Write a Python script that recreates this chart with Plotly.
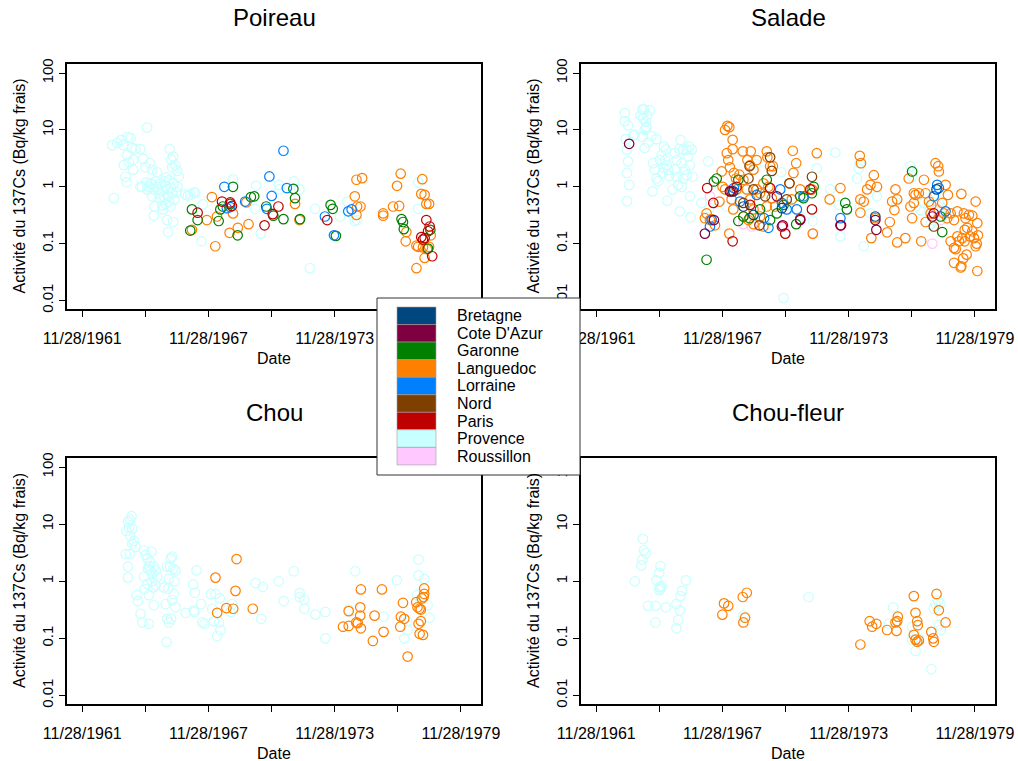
import plotly.graph_objects as go
from datetime import datetime, timedelta

W, H = 1018, 761

regions = ["Bretagne", "Cote D'Azur", "Garonne", "Languedoc", "Lorraine",
           "Nord", "Paris", "Provence", "Roussillon"]
region_colors = ["#00467F", "#7F0040", "#007F00", "#FF7F00", "#007FFF",
                 "#7F3F00", "#BF0000", "#C8FFFF", "#FFC8FF"]
draw_order = ["Provence", "Roussillon", "Languedoc", "Garonne", "Lorraine",
              "Paris", "Nord", "Bretagne", "Cote D'Azur"]

tick_years = [1961, 1964, 1967, 1970, 1973, 1976, 1979]
tick_labels = ["11/28/1961", "", "11/28/1967", "", "11/28/1973", "", "11/28/1979"]
y_tickvals = [0.01, 0.1, 1, 10, 100]
y_ticklabels = ["0.01", "0.1", "1", "10", "100"]

# ---------------- Poireau ----------------
poireau_provence_t = [1963.33, 1963.57, 1963.76, 1963.85, 1964.07, 1964.20, 1964.28, 1964.44, 1964.67, 1964.04,
                      1963.88, 1964.12, 1963.96, 1964.01, 1964.33, 1964.33, 1964.67, 1964.80, 1964.91, 1964.99,
                      1964.96, 1965.07, 1965.12, 1965.23, 1965.31, 1965.23, 1965.34, 1965.31, 1965.46, 1965.54,
                      1965.62, 1965.70, 1965.75, 1965.81, 1965.89, 1965.94, 1965.99, 1966.03, 1966.06, 1966.13,
                      1966.18, 1966.22, 1966.25, 1966.29, 1966.33, 1966.41, 1966.44, 1966.49, 1965.94, 1965.99,
                      1966.22, 1963.41, 1966.81, 1966.93, 1967.20, 1967.64, 1967.57, 1969.07, 1970.17, 1970.12,
                      1970.39, 1971.25, 1971.28, 1971.97, 1972.23, 1972.97, 1972.73, 1974.15, 1974.50, 1974.86,
                      1974.97, 1977.87, 1977.87, 1965.46, 1965.59, 1965.78, 1965.86, 1966.10, 1966.18, 1966.38,
                      1965.39, 1965.15, 1964.99, 1964.75, 1965.23, 1965.70, 1965.86, 1966.02, 1966.13, 1967.04,
                      1967.28]
poireau_provence_v = [5.4, 5.9, 6.7, 5.4, 7.5, 7.2, 4.8, 4.6, 4.6, 3.6,
                      2.4, 2.7, 1.5, 1.2, 3.0, 2.0, 1.0, 3.1, 2.2, 11,
                      1.2, 1.0, 2.6, 2.0, 0.9, 0.68, 0.45, 0.31, 1.8, 0.77,
                      1.15, 0.47, 0.4, 1.25, 1.45, 0.9, 0.68, 0.55, 4.6, 3.0,
                      2.2, 3.4, 1.15, 0.6, 2.4, 1.9, 1.0, 1.5, 0.26, 0.16,
                      0.24, 0.63, 0.73, 0.70, 0.8, 0.49, 0.11, 1.35, 1.05, 0.41,
                      0.15, 1.08, 0.9, 1.25, 0.9, 0.41, 0.037, 0.3, 0.55, 0.25,
                      0.26, 1.2, 0.41, 1.0, 0.63, 0.68, 0.5, 0.45, 0.77, 0.8,
                      1.25, 1.15, 0.9, 1.0, 1.1, 0.85, 1.05, 1.3, 0.95, 0.73,
                      0.78]
poireau_languedoc_t = [1967.12, 1967.83, 1968.07, 1968.23, 1968.31, 1968.91, 1969.07, 1969.30, 1969.70, 1969.81,
                       1972.02, 1972.23, 1974.86, 1974.94, 1975.21, 1974.97, 1975.13, 1974.94, 1976.21, 1976.21,
                       1976.68, 1976.97, 1976.87, 1977.04, 1977.28, 1977.31, 1977.79, 1977.87, 1977.79, 1978.07,
                       1978.02, 1978.18, 1978.26, 1978.39, 1978.10, 1978.29, 1978.18, 1978.47, 1978.39]
poireau_languedoc_v = [0.175, 0.26, 0.66, 0.09, 0.30, 0.155, 0.34, 0.19, 0.53, 0.22,
                       0.50, 0.26, 0.68, 1.33, 1.42, 0.45, 0.45, 0.32, 0.34, 0.31,
                       0.45, 0.46, 1.04, 1.7, 0.11, 0.16, 0.092, 0.088, 0.037, 1.36,
                       0.75, 0.72, 0.50, 0.50, 0.086, 0.080, 0.056, 0.14, 0.088]
poireau_garonne_t = [1967.12, 1967.04, 1967.39, 1968.39, 1968.47, 1968.59, 1968.94, 1969.07, 1969.29, 1969.92,
                     1970.08, 1970.65, 1970.99, 1971.47, 1971.94, 1972.02, 1972.26, 1973.71, 1973.81, 1973.96,
                     1977.08, 1977.15, 1977.19, 1978.34, 1978.45]
poireau_garonne_v = [0.40, 0.17, 0.26, 0.25, 0.40, 0.45, 0.50, 1.0, 0.14, 0.66,
                     0.68, 0.45, 0.31, 0.27, 0.92, 0.63, 0.27, 0.48, 0.41, 0.137,
                     0.27, 0.24, 0.18, 0.082, 0.175]
poireau_lorraine_t = [1968.66, 1968.78, 1968.94, 1969.65, 1970.80, 1970.91, 1971.47, 1971.63, 1970.68, 1973.44,
                      1973.87, 1974.55, 1974.71]
poireau_lorraine_v = [1.0, 0.42, 0.44, 0.55, 1.52, 0.69, 4.3, 0.95, 0.41, 0.30,
                      0.14, 0.37, 0.40]
poireau_paris_t = [1967.39, 1968.55, 1969.02, 1968.94, 1970.57, 1971.23, 1970.96, 1973.55, 1978.26, 1978.42,
                   1978.02, 1978.10, 1978.18, 1978.54, 1978.34]
poireau_paris_v = [0.35, 0.55, 0.46, 0.53, 0.21, 0.45, 0.33, 0.26, 0.26, 0.20,
                   0.13, 0.118, 0.125, 0.06, 0.165]

# ---------------- Salade ----------------
salade_provence_t = [1963.26, 1963.26, 1963.42, 1963.31, 1963.37, 1963.42, 1963.37, 1963.47, 1963.37, 1963.66,
                     1963.74, 1964.10, 1964.17, 1964.01, 1964.13, 1964.26, 1964.29, 1964.21, 1964.10, 1964.21,
                     1964.32, 1964.45, 1964.37, 1964.29, 1964.53, 1964.77, 1964.61, 1964.69, 1964.77, 1964.58,
                     1964.85, 1964.93, 1965.01, 1965.12, 1965.21, 1965.25, 1965.33, 1965.37, 1965.28, 1965.53,
                     1965.09, 1965.17, 1965.06, 1965.64, 1965.72, 1965.85, 1965.91, 1966.04, 1965.96, 1966.12,
                     1966.20, 1966.28, 1966.36, 1966.44, 1966.33, 1966.49, 1965.88, 1965.80, 1966.04, 1966.36,
                     1966.39, 1965.72, 1965.64, 1966.20, 1965.96, 1967.23, 1966.91, 1967.28, 1968.10, 1968.70,
                     1969.20, 1969.90, 1970.70, 1970.81, 1971.00, 1971.60, 1972.20, 1969.50, 1972.39, 1973.27,
                     1973.51, 1973.43, 1973.03, 1974.38, 1974.43, 1974.30, 1974.62, 1974.43, 1974.94, 1975.25,
                     1976.13, 1976.84, 1976.92, 1977.08, 1977.32, 1977.80, 1978.03, 1978.19, 1978.35, 1978.40,
                     1977.72, 1977.48, 1977.95]
salade_provence_v = [19.8, 14.3, 12, 6.9, 4.5, 2.8, 1.75, 1.08, 0.56, 8.0,
                     8.3, 23, 23, 18, 16, 14, 11.4, 10, 7.5, 4.8,
                     18, 22, 6.0, 11, 7.8, 6.9, 2.6, 2.0, 1.4, 0.83,
                     1.25, 2.95, 3.6, 5.1, 4.5, 2.4, 2.0, 1.55, 0.57, 0.89,
                     2.2, 2.95, 1.75, 3.9, 2.95, 4.6, 6.7, 4.5, 2.6, 2.0,
                     4.5, 3.4, 2.4, 4.5, 5.1, 1.5, 0.37, 1.08, 1.4, 0.68,
                     0.29, 1.5, 2.0, 1.6, 1.0, 2.8, 0.52, 0.42, 0.45, 0.9,
                     0.68, 0.77, 1.8, 0.011, 0.5, 0.3, 0.25, 2.5, 2.1, 4.0,
                     0.134, 0.48, 0.91, 2.1, 2.6, 1.4, 0.09, 0.45, 0.34, 0.68,
                     0.55, 2.3, 1.5, 0.45, 0.39, 0.22, 0.77, 0.52, 0.42, 0.31,
                     0.45, 0.52, 0.26]
salade_languedoc_t = [1967.07, 1967.15, 1967.31, 1967.39, 1967.55, 1967.76, 1967.87, 1967.91, 1968.03, 1968.03,
                      1968.14, 1968.23, 1968.11, 1968.18, 1968.26, 1968.39, 1968.39, 1968.45, 1968.55, 1968.34,
                      1968.42, 1968.58, 1968.71, 1968.87, 1969.25, 1969.09, 1969.22, 1969.38, 1969.53, 1970.01,
                      1970.04, 1970.17, 1970.30, 1968.90, 1969.06, 1969.22, 1969.38, 1969.53, 1969.69, 1969.85,
                      1970.09, 1970.25, 1970.41, 1968.90, 1969.14, 1969.38, 1969.69, 1969.85, 1970.01, 1968.23,
                      1971.25, 1971.41, 1971.28, 1971.09, 1971.20, 1971.60, 1972.39, 1972.20, 1972.16, 1973.00,
                      1973.51, 1974.43, 1974.49, 1974.46, 1974.46, 1974.62, 1974.78, 1974.94, 1975.10, 1975.25,
                      1974.98, 1975.17, 1975.73, 1975.86, 1975.97, 1976.13, 1976.21, 1976.21, 1976.60, 1976.08,
                      1976.76, 1976.84, 1976.92, 1977.00, 1977.08, 1977.24, 1977.00, 1977.48, 1977.56, 1977.72,
                      1977.35, 1977.80, 1977.56, 1977.83, 1978.03, 1978.16, 1978.19, 1978.51, 1978.62, 1978.35,
                      1978.43, 1978.59, 1978.75, 1978.91, 1979.07, 1979.26, 1979.38, 1979.46, 1979.62, 1979.78,
                      1979.94, 1980.02, 1978.75, 1978.91, 1979.07, 1978.99, 1979.15, 1979.30, 1979.42, 1979.54,
                      1979.67, 1979.78, 1979.86, 1979.99, 1980.05, 1979.94, 1978.91, 1979.23, 1979.35, 1979.51,
                      1980.02, 1979.26, 1979.42]
salade_languedoc_v = [0.28, 0.34, 0.26, 0.27, 0.21, 0.55, 1.86, 1.0, 0.9, 10,
                      11.8, 11.2, 3.9, 2.95, 2.2, 6.7, 4.6, 1.75, 1.4, 0.6,
                      0.4, 0.9, 1.63, 4.2, 4.2, 2.95, 2.4, 2.0, 2.95, 4.2,
                      3.3, 2.3, 2.3, 1.33, 0.9, 0.6, 0.4, 0.9, 0.77, 1.15,
                      1.0, 0.63, 0.45, 0.30, 0.26, 0.22, 0.30, 0.20, 0.45, 0.15,
                      4.3, 2.6, 1.75, 1.15, 0.6, 0.9, 3.9, 0.15, 0.9, 0.6,
                      0.95, 3.5, 2.6, 0.6, 0.35, 0.55, 0.9, 1.08, 1.6, 1.0,
                      0.125, 0.28, 0.158, 0.24, 0.55, 0.9, 0.6, 0.105, 0.125, 0.39,
                      1.4, 0.45, 0.28, 0.77, 0.72, 0.77, 0.52, 1.33, 0.77, 0.55,
                      0.11, 0.34, 0.24, 0.48, 2.6, 2.3, 1.86, 1.08, 0.72, 0.52,
                      0.34, 0.28, 0.34, 0.26, 0.37, 0.75, 0.34, 0.28, 0.32, 0.31,
                      0.55, 0.23, 0.11, 0.084, 0.134, 0.08, 0.11, 0.125, 0.175, 0.19,
                      0.134, 0.165, 0.125, 0.1, 0.14, 0.09, 0.046, 0.038, 0.055, 0.064,
                      0.033, 0.04, 0.11]
salade_garonne_t = [1967.15, 1967.50, 1967.63, 1968.66, 1968.66, 1968.90, 1969.19, 1970.01, 1970.17, 1970.49,
                    1970.81, 1971.41, 1971.60, 1971.76, 1972.16, 1972.24, 1973.74, 1973.82, 1976.92, 1978.35,
                    1978.27, 1969.69]
salade_garonne_v = [0.052, 1.24, 1.4, 1.33, 0.25, 0.30, 0.28, 1.33, 0.26, 0.34,
                    0.48, 0.22, 0.68, 0.63, 0.77, 1.0, 0.52, 0.40, 1.86, 0.16,
                    0.30, 0.40]
salade_lorraine_t = [1967.31, 1967.39, 1968.45, 1968.74, 1969.53, 1969.88, 1970.09, 1970.65, 1970.73, 1970.96,
                     1971.44, 1971.76, 1973.51, 1977.95, 1978.11, 1978.19, 1978.51]
salade_lorraine_v = [0.20, 0.26, 0.95, 0.55, 0.72, 0.28, 0.19, 0.9, 0.52, 0.40,
                     0.40, 0.68, 0.28, 0.68, 1.08, 0.95, 0.37]
salade_paris_t = [1967.18, 1967.47, 1968.34, 1968.58, 1968.39, 1969.22, 1970.17, 1970.73, 1970.89, 1971.60,
                  1972.16, 1972.08, 1973.51, 1977.95]
salade_paris_v = [0.95, 0.52, 0.83, 1.0, 0.11, 0.48, 0.95, 0.20, 0.15, 0.27,
                  0.40, 0.9, 0.21, 0.34]
salade_cotedazur_t = [1963.47, 1967.07, 1967.50, 1968.26, 1970.49, 1970.77, 1971.60, 1973.54, 1975.17, 1975.22,
                      1977.88]
salade_cotedazur_v = [5.7, 0.15, 0.26, 0.83, 0.68, 0.21, 0.26, 0.21, 0.26, 0.175,
                      0.30]
salade_nord_t = [1969.14, 1969.19, 1970.17, 1970.25, 1969.93, 1969.66, 1970.96, 1971.09, 1972.16, 1977.95,
                 1968.90, 1969.38]
salade_nord_v = [1.4, 2.3, 3.3, 1.9, 0.68, 0.21, 0.6, 1.15, 1.5, 0.20,
                 0.52, 0.9]
salade_bretagne_t = [1968.42, 1968.90, 1969.38, 1970.73, 1975.17, 1978.08]
salade_bretagne_v = [0.83, 0.45, 0.32, 0.42, 0.30, 0.9]
salade_roussillon_t = [1967.31, 1968.90, 1969.30, 1970.81, 1972.20, 1977.88, 1978.11, 1978.27]
salade_roussillon_v = [0.68, 0.22, 0.20, 0.20, 0.15, 0.10, 0.40, 0.26]

# ---------------- Chou ----------------
chou_provence_t = [1963.97, 1964.08, 1964.17, 1964.25, 1964.01, 1964.13, 1964.28, 1964.36, 1964.44, 1964.20,
                   1964.08, 1964.08, 1964.17, 1964.28, 1964.84, 1964.92, 1965.00, 1965.03, 1965.07, 1965.15,
                   1965.23, 1965.31, 1965.19, 1965.12, 1965.39, 1964.84, 1964.87, 1965.00, 1965.07, 1965.23,
                   1965.28, 1965.39, 1965.47, 1964.49, 1964.55, 1964.68, 1964.76, 1965.07, 1965.31, 1965.79,
                   1965.87, 1965.94, 1966.02, 1966.10, 1966.18, 1966.23, 1966.34, 1966.29, 1966.26, 1966.18,
                   1966.34, 1965.91, 1965.94, 1966.02, 1966.13, 1966.07, 1965.99, 1966.82, 1967.18, 1967.26,
                   1967.34, 1967.21, 1967.24, 1967.61, 1967.56, 1967.72, 1968.03, 1968.16, 1968.24, 1968.32,
                   1968.40, 1968.44, 1968.48, 1968.08, 1968.95, 1969.03, 1970.14, 1970.49, 1970.41, 1971.25,
                   1971.48, 1971.96, 1972.24, 1972.24, 1972.46, 1972.46, 1972.99, 1973.46, 1973.46, 1974.57,
                   1974.88, 1976.23, 1976.86, 1977.21, 1977.37, 1977.34, 1977.89, 1977.89, 1978.16, 1978.32,
                   1978.41, 1978.00, 1977.81]
chou_provence_v = [3.0, 11, 12, 13.8, 7.6, 8.7, 8.3, 5.1, 4.0, 6.2,
                   1.8, 1.16, 3.0, 4.6, 3.5, 2.9, 2.5, 1.65, 1.85, 1.55,
                   1.35, 1.8, 3.3, 2.2, 1.55, 1.2, 0.74, 0.9, 0.57, 1.0,
                   0.78, 0.85, 1.2, 0.57, 0.45, 0.27, 0.19, 0.18, 0.38, 0.78,
                   0.40, 1.8, 1.1, 2.5, 2.7, 1.65, 1.55, 1.0, 0.6, 0.47,
                   0.35, 0.086, 0.22, 0.19, 0.22, 1.8, 0.74, 0.28, 0.88, 0.63,
                   1.55, 0.31, 0.29, 0.19, 0.40, 0.18, 0.60, 0.20, 0.60, 0.11,
                   0.19, 0.50, 0.14, 0.33, 0.29, 0.40, 0.93, 0.80, 0.22, 1.0,
                   0.45, 1.5, 0.62, 0.53, 0.48, 0.33, 0.26, 0.29, 0.10, 0.32,
                   1.5, 0.24, 1.04, 0.10, 0.14, 0.20, 2.4, 1.27, 1.1, 0.38,
                   0.23, 0.50, 0.57]
chou_languedoc_t = [1968.24, 1968.32, 1968.76, 1969.08, 1969.19, 1969.24, 1970.01, 1974.30, 1974.57, 1974.57,
                    1974.93, 1975.00, 1975.12, 1975.12, 1975.15, 1975.15, 1975.72, 1975.80, 1976.15, 1976.23,
                    1977.02, 1977.05, 1977.15, 1977.21, 1977.37, 1977.78, 1977.84, 1977.94, 1978.00, 1977.89,
                    1978.00, 1977.94, 1978.10, 1978.05, 1978.16, 1978.16, 1978.13]
chou_languedoc_v = [1.16, 0.28, 0.34, 0.33, 0.68, 2.45, 0.33, 0.16, 0.165, 0.30,
                    0.19, 0.185, 0.35, 0.25, 0.72, 0.15, 0.09, 0.25, 0.72, 0.13,
                    0.16, 0.24, 0.42, 0.22, 0.048, 0.43, 0.35, 0.33, 0.32, 0.18,
                    0.20, 0.12, 0.115, 0.50, 0.60, 0.75, 0.53]

# ---------------- Chou-fleur ----------------
choufleur_provence_t = [1963.74, 1964.05, 1964.10, 1964.17, 1964.13, 1964.26, 1964.37, 1964.72, 1964.72, 1964.77,
                        1964.90, 1964.96, 1964.93, 1965.01, 1964.90, 1964.96, 1965.21, 1965.72, 1965.80, 1965.72,
                        1965.88, 1965.91, 1965.98, 1966.17, 1968.90, 1972.00, 1975.81, 1976.02, 1976.21, 1976.92,
                        1976.92, 1977.08, 1977.24, 1977.83, 1977.95, 1978.03, 1978.15, 1978.27, 1978.19, 1978.27]
choufleur_provence_v = [1.0, 1.9, 2.4, 3.5, 5.5, 3.1, 0.37, 0.37, 0.19, 1.04,
                        1.4, 1.85, 0.8, 0.82, 0.7, 0.74, 0.35, 0.40, 0.21, 0.15,
                        0.31, 0.55, 0.68, 1.04, 0.25, 0.53, 0.18, 0.35, 0.20, 0.16,
                        0.095, 0.06, 0.10, 0.029, 0.33, 0.40, 0.46, 0.40, 0.17, 0.14]
choufleur_languedoc_t = [1967.90, 1967.98, 1968.18, 1968.87, 1969.06, 1968.98, 1968.90, 1974.46, 1974.90, 1975.02,
                         1975.22, 1975.73, 1976.13, 1976.18, 1976.21, 1976.24, 1977.00, 1977.08, 1977.16, 1977.19,
                         1977.00, 1977.08, 1977.16, 1977.24, 1977.83, 1977.92, 1977.95, 1978.08, 1978.19, 1978.51]
choufleur_languedoc_v = [0.26, 0.41, 0.37, 0.53, 0.63, 0.23, 0.19, 0.078, 0.20, 0.16,
                         0.18, 0.14, 0.19, 0.135, 0.20, 0.24, 0.55, 0.28, 0.20, 0.17,
                         0.115, 0.095, 0.087, 0.092, 0.13, 0.10, 0.087, 0.60, 0.31, 0.19]

panels = [
    ("Poireau", {"Provence": (poireau_provence_t, poireau_provence_v),
                 "Languedoc": (poireau_languedoc_t, poireau_languedoc_v),
                 "Garonne": (poireau_garonne_t, poireau_garonne_v),
                 "Lorraine": (poireau_lorraine_t, poireau_lorraine_v),
                 "Paris": (poireau_paris_t, poireau_paris_v)}),
    ("Salade", {"Provence": (salade_provence_t, salade_provence_v),
                "Roussillon": (salade_roussillon_t, salade_roussillon_v),
                "Languedoc": (salade_languedoc_t, salade_languedoc_v),
                "Garonne": (salade_garonne_t, salade_garonne_v),
                "Lorraine": (salade_lorraine_t, salade_lorraine_v),
                "Paris": (salade_paris_t, salade_paris_v),
                "Nord": (salade_nord_t, salade_nord_v),
                "Bretagne": (salade_bretagne_t, salade_bretagne_v),
                "Cote D'Azur": (salade_cotedazur_t, salade_cotedazur_v)}),
    ("Chou", {"Provence": (chou_provence_t, chou_provence_v),
              "Languedoc": (chou_languedoc_t, chou_languedoc_v)}),
    ("Chou-fleur", {"Provence": (choufleur_provence_t, choufleur_provence_v),
                    "Languedoc": (choufleur_languedoc_t, choufleur_languedoc_v)}),
]


def to_date(y):
    yi = int(y)
    return datetime(yi, 1, 1) + timedelta(days=(y - yi) * 365.25)


color_of = dict(zip(regions, region_colors))
FONT = "Liberation Sans, Arial, sans-serif"

# panel boxes in pixels: (left, right, top, bottom)
boxes = [(67, 481, 64, 309), (581, 995, 64, 309), (67, 481, 458, 704), (581, 995, 458, 704)]

fig = go.Figure()
tickvals_dates = [datetime(y, 11, 28) for y in tick_years]
x_range = [to_date(1961.18), to_date(1980.86)]

annotations = []
for i, ((title, series), (l, r, t, b)) in enumerate(zip(panels, boxes)):
    ax = "" if i == 0 else str(i + 1)
    for reg in draw_order:
        if reg not in series:
            continue
        ts, vs = series[reg]
        fig.add_trace(go.Scatter(
            x=[to_date(v) for v in ts], y=vs, mode="markers",
            xaxis="x" + ax, yaxis="y" + ax, name=reg, showlegend=False,
            marker=dict(symbol="circle-open", size=9.5, color=color_of[reg],
                        line=dict(width=1.2, color=color_of[reg])),
            hoverinfo="x+y+name"))
    common = dict(showline=True, mirror=True, linecolor="black", linewidth=2,
                  ticks="outside", ticklen=6, tickwidth=1, tickcolor="black",
                  showgrid=False, zeroline=False, automargin=False)
    labels = list(tick_labels)
    if i == 0:
        labels[-1] = ""  # hidden under the legend box in the original
    fig.layout["xaxis" + ax] = dict(
        domain=[l / W, r / W], anchor="y" + ax, type="date", range=x_range,
        tickmode="array", tickvals=tickvals_dates, ticktext=labels, tickangle=0,
        ticklabelstandoff=8, tickfont=dict(family=FONT, size=16, color="black"),
        **common)
    fig.layout["yaxis" + ax] = dict(
        domain=[1 - b / H, 1 - t / H], anchor="x" + ax, type="log",
        range=[-2.15, 2.16], tickmode="array", tickvals=y_tickvals,
        ticktext=y_ticklabels, tickangle=-90,
        tickfont=dict(family=FONT, size=15, color="black"), **common)
    cx = (l + r) / 2
    annotations.append(dict(text=title, x=cx / W, y=1 - (t - 46) / H, xref="paper", yref="paper",
                            showarrow=False, font=dict(family=FONT, size=24, color="black"),
                            xanchor="center", yanchor="middle"))
    annotations.append(dict(text="Date", x=cx / W, y=1 - (b + 49) / H, xref="paper", yref="paper",
                            showarrow=False, font=dict(family=FONT, size=16, color="black"),
                            xanchor="center", yanchor="middle"))
    annotations.append(dict(text="Activité du 137Cs (Bq/kg frais)", x=(l - 48) / W,
                            y=1 - ((t + b) / 2) / H, xref="paper", yref="paper",
                            showarrow=False, textangle=-90,
                            font=dict(family=FONT, size=16, color="black"),
                            xanchor="center", yanchor="middle"))

# legend drawn as layout shapes/annotations
shapes = []
lg_l, lg_r, lg_t, lg_b = 377, 580, 298, 475
shapes.append(dict(type="rect", xref="paper", yref="paper", layer="above",
                   x0=lg_l / W, x1=lg_r / W, y0=1 - lg_b / H, y1=1 - lg_t / H,
                   fillcolor="white", line=dict(color="#333333", width=1)))
row_h = 17.55
for k, (reg, col) in enumerate(zip(regions, region_colors)):
    top = 307 + k * row_h
    shapes.append(dict(type="rect", xref="paper", yref="paper", layer="above",
                       x0=397 / W, x1=436 / W, y0=1 - (top + row_h) / H, y1=1 - top / H,
                       fillcolor=col, line=dict(color="#a0a0a0", width=0.6)))
    annotations.append(dict(text=reg, x=455 / W, y=1 - (top + row_h / 2) / H,
                            xref="paper", yref="paper", showarrow=False,
                            xanchor="left", yanchor="middle",
                            font=dict(family=FONT, size=16, color="black")))

fig.update_layout(width=W, height=H, margin=dict(l=0, r=0, t=0, b=0, pad=0, autoexpand=False),
                  paper_bgcolor="white", plot_bgcolor="white",
                  shapes=shapes, annotations=annotations, showlegend=False,
                  font=dict(family=FONT, color="black"))

fig.write_html("out.html")
